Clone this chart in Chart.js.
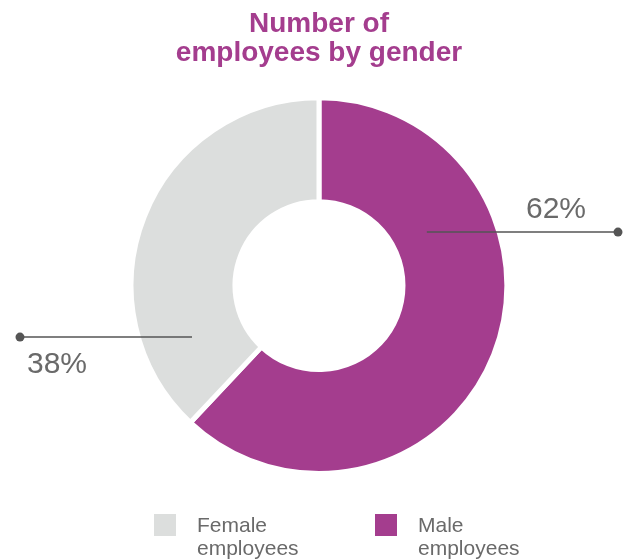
<!DOCTYPE html>
<html>
<head>
<meta charset="utf-8">
<script src="https://cdn.jsdelivr.net/npm/chart.js@4/dist/chart.umd.min.js"></script>
<style>
  body { margin: 0; background: #fff; }
  #wrap { width: 623px; height: 560px; }
</style>
</head>
<body>
<div id="wrap"><canvas id="genderChart" width="623" height="560"></canvas></div>
<script>
var titleLines = ['Number of', 'employees by gender'];
var genderLabels = ['Male employees', 'Female employees'];
var genderValues = [62, 38];
var genderColors = ['#a43d8e', '#dcdedd'];
var legendOrder = [1, 0];

var PURPLE = '#a43d8e';
var TEXT_GREY = '#6a6a6a';
var LINE_GREY = '#555555';
var FONT = "'Liberation Sans', Arial, sans-serif";

// leader lines, placed relative to the ring (fractions of the radius)
var leaderLayout = [
    { dy: -0.285, from: 0.574, to: 618, textX: 586, align: 'right', textDy: -14 },
    { dy: 0.274, from: -0.676, to: 20, textX: 27, align: 'left', textDy: 36 }
];

var leaderPlugin = {
    id: 'leaders',
    afterDatasetsDraw: function (chart) {
        var ctx = chart.ctx;
        var meta = chart.getDatasetMeta(0);
        var data = chart.data.datasets[0].data;
        var total = data.reduce(function (a, b) { return a + b; }, 0);
        ctx.save();
        meta.data.forEach(function (arc, i) {
            var p = arc.getProps(['x', 'y', 'outerRadius'], true);
            var l = leaderLayout[i];
            var y = p.y + l.dy * p.outerRadius;
            var x0 = p.x + l.from * p.outerRadius;
            ctx.strokeStyle = LINE_GREY;
            ctx.lineWidth = 1.5;
            ctx.beginPath();
            ctx.moveTo(x0, y);
            ctx.lineTo(l.to, y);
            ctx.stroke();
            ctx.fillStyle = LINE_GREY;
            ctx.beginPath();
            ctx.arc(l.to, y, 4.5, 0, Math.PI * 2);
            ctx.fill();
            ctx.fillStyle = TEXT_GREY;
            ctx.font = '30px ' + FONT;
            ctx.textAlign = l.align;
            ctx.textBaseline = 'alphabetic';
            ctx.fillText(Math.round(data[i] / total * 100) + '%', l.textX, y + l.textDy);
        });
        ctx.restore();
    }
};

var legendPlugin = {
    id: 'twoLineLegend',
    afterDraw: function (chart) {
        var ctx = chart.ctx;
        var boxX = [154, 375];
        ctx.save();
        ctx.font = '21px ' + FONT;
        ctx.textAlign = 'left';
        ctx.textBaseline = 'alphabetic';
        legendOrder.forEach(function (idx, n) {
            var x = boxX[n];
            ctx.fillStyle = chart.data.datasets[0].backgroundColor[idx];
            ctx.fillRect(x, 514, 22, 22);
            var words = chart.data.labels[idx].split(' ');
            ctx.fillStyle = TEXT_GREY;
            ctx.fillText(words[0], x + 43, 532);
            ctx.fillText(words[1], x + 43, 555);
        });
        ctx.restore();
    }
};

Chart.defaults.font.family = FONT;

var genderChart = new Chart(document.getElementById('genderChart').getContext('2d'), {
    type: 'doughnut',
    data: {
        labels: genderLabels,
        datasets: [{
            data: genderValues,
            backgroundColor: genderColors,
            borderColor: '#ffffff',
            borderWidth: 5,
            hoverOffset: 0,
            hoverBorderWidth: 5
        }]
    },
    options: {
        responsive: false,
        animation: false,
        cutout: '44.7%',
        layout: { padding: { top: 0, bottom: 84, left: 15, right: 0 } },
        plugins: {
            legend: { display: false },
            tooltip: { enabled: false },
            title: {
                display: true,
                text: titleLines,
                color: PURPLE,
                font: { size: 28, weight: 'bold', lineHeight: 1.04 },
                padding: { top: 10, bottom: 27 }
            }
        }
    },
    plugins: [leaderPlugin, legendPlugin]
});
</script>
</body>
</html>
